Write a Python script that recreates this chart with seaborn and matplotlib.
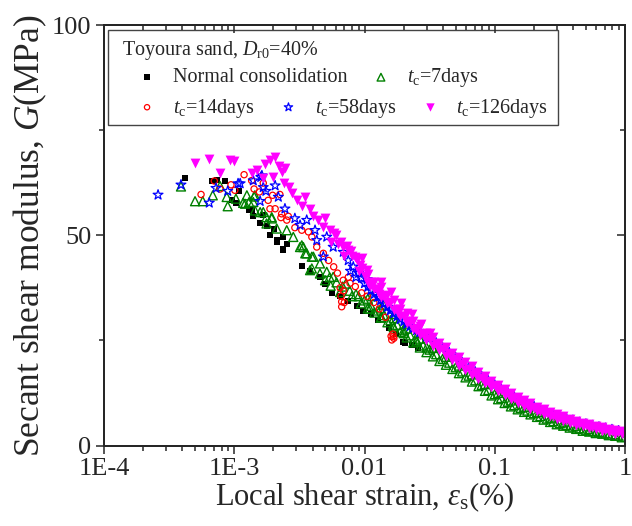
import numpy as np
import pandas as pd
import matplotlib
matplotlib.use('Agg')
import matplotlib.pyplot as plt
import seaborn as sns
from matplotlib.patches import Rectangle
from matplotlib.ticker import FixedLocator, NullFormatter, LogLocator

# ---- data: strain in %, G in MPa ----
# dense part of the curves, sampled along the middle of each band
band_strain = [0.01, 0.0112, 0.0126, 0.0141, 0.0158, 0.0178, 0.02, 0.0224, 0.0251, 0.0282,
               0.0316, 0.0355, 0.0398, 0.0447, 0.0501, 0.0562, 0.0631, 0.0708, 0.0794, 0.0891,
               0.1, 0.112, 0.126, 0.141, 0.158, 0.178, 0.2, 0.224, 0.251, 0.282,
               0.316, 0.355, 0.398, 0.447, 0.501, 0.562, 0.631, 0.708, 0.794, 0.891, 1.0]
d7_band_G = [34.5, 33.2, 32.1, 31.0, 29.8, 28.7, 27.4, 26.2, 25.0, 23.8,
             22.8, 21.7, 20.6, 19.7, 18.6, 17.6, 16.6, 15.5, 14.4, 13.2,
             12.2, 11.3, 10.4, 9.6, 8.95, 8.3, 7.7, 7.0, 6.4, 5.8,
             5.3, 4.9, 4.5, 4.1, 3.75, 3.45, 3.2, 2.9, 2.6, 2.35, 2.1]
d58_band_G = [38.55, 36.9, 35.3, 33.7, 32.1, 30.7, 29.5, 28.35, 27.4, 26.4,
              25.45, 24.4, 23.2, 22.1, 20.9, 19.75, 18.6, 17.5, 16.4, 15.4,
              14.4, 13.4, 12.5, 11.6, 10.8, 10.0, 9.3, 8.6, 8.0, 7.4,
              6.95, 6.45, 6.0, 5.5, 5.1, 4.75, 4.4, 4.1, 3.8, 3.5, 3.2]
d126_band_G = [40.4, 38.8, 37.2, 35.6, 34.0, 32.4, 30.9, 29.4, 28.0, 26.6,
               25.3, 24.1, 22.9, 21.8, 20.6, 19.45, 18.3, 17.2, 16.1, 15.1,
               14.1, 13.1, 12.2, 11.3, 10.5, 9.7, 9.0, 8.3, 7.7, 7.1,
               6.65, 6.15, 5.7, 5.2, 4.8, 4.45, 4.1, 3.8, 3.5, 3.2, 2.9]

# upper / lower edges of the bands, read between the samples above
edge_strain = [0.0106, 0.0133, 0.0168, 0.0211, 0.0266, 0.0335, 0.0422, 0.0531, 0.0668, 0.0841,
               0.106, 0.133, 0.168, 0.211, 0.266, 0.335, 0.422, 0.531, 0.668, 0.841]
d7_low_G = [32.6, 30.4, 28.1, 25.7, 23.3, 21.2, 19.2, 17.2, 15.2, 13.0,
            11.0, 9.3, 8.0, 6.8, 5.6, 4.7, 3.95, 3.3, 2.8, 2.3]
d7_up_G = [34.9, 32.6, 30.3, 27.8, 25.4, 23.2, 21.1, 19.0, 16.9, 14.6,
           12.5, 10.7, 9.2, 7.9, 6.6, 5.5, 4.65, 3.9, 3.3, 2.7]
d126_up_G = [40.9, 37.7, 34.5, 31.4, 28.5, 25.9, 23.5, 21.1, 18.8, 16.5,
             14.4, 12.5, 10.8, 9.25, 7.95, 6.9, 5.9, 5.0, 4.3, 3.65]
d126_low_G = [38.6, 35.4, 32.2, 29.2, 26.3, 23.7, 21.4, 19.0, 16.8, 14.8,
              12.9, 11.1, 9.5, 8.1, 6.9, 5.8, 4.9, 4.1, 3.4, 2.8]

edge2_strain = [0.0119, 0.015, 0.0188, 0.0237, 0.0299, 0.0376, 0.0473, 0.0596, 0.075, 0.0944,
                0.119, 0.15, 0.188, 0.237, 0.299, 0.376, 0.473, 0.596, 0.75, 0.944]
d7_low2_G = [31.6, 29.3, 27.0, 24.5, 22.2, 20.1, 18.2, 16.2, 14.1, 11.9,
             10.1, 8.6, 7.4, 6.15, 5.05, 4.25, 3.5, 2.95, 2.45, 1.95]
d126_up2_G = [38.9, 35.7, 32.5, 29.6, 26.85, 24.4, 22.1, 19.8, 17.5, 15.4,
              13.4, 11.6, 10.0, 8.6, 7.45, 6.4, 5.45, 4.7, 4.0, 3.35]
d126_low2_G = [37.1, 33.9, 30.75, 27.8, 25.05, 22.6, 20.3, 18.0, 15.8, 13.8,
               11.9, 10.2, 8.7, 7.4, 6.35, 5.4, 4.55, 3.9, 3.3, 2.75]

# scattered small-strain points
nc_strain = [4.19e-4, 6.71e-4, 7.33e-4, 8.49e-4, 1.09e-3, 9.55e-4, 1.03e-3, 1.30e-3, 1.40e-3, 1.58e-3,
             1.77e-3, 2.02e-3, 1.88e-3, 2.12e-3, 2.38e-3, 2.38e-3, 2.53e-3, 3.30e-3, 4.55e-3, 5.60e-3,
             1.36e-3, 1.67e-3, 2.12e-3, 2.38e-3, 3.8e-3, 5.0e-3, 6.5e-3, 7.5e-3, 8.7e-3, 9.8e-3,
             0.0112, 0.0128, 0.0154, 0.0175, 0.0199, 0.0205, 0.023, 0.0256]
nc_G = [63.6, 63.0, 63.2, 63.0, 60.5, 58.3, 57.7, 55.9, 54.5, 52.9,
        52.1, 51.5, 50.0, 48.4, 49.5, 46.8, 48.0, 42.7, 40.1, 36.3,
        55.9, 54.7, 48.8, 46.4, 41.5, 38.5, 35.5, 34.3, 33.2, 32.0,
        31.2, 29.8, 28.0, 26.5, 24.7, 24.4, 23.8, 23.2]

d7_strain = [3.90e-4, 5.0e-4, 5.73e-4, 6.84e-4, 7.78e-4, 8.91e-4, 8.75e-4, 1.03e-3, 1.17e-3, 1.30e-3,
             1.25e-3, 1.42e-3, 1.44e-3, 1.58e-3, 1.77e-3, 1.94e-3, 1.77e-3, 2.53e-3, 2.84e-3, 3.30e-3,
             3.60e-3, 3.94e-3, 4.55e-3, 5.13e-3, 5.75e-3, 1.21e-3, 1.44e-3, 1.40e-3, 1.67e-3, 1.94e-3,
             2.12e-3, 3.20e-3, 3.51e-3, 3.94e-3, 3.39e-3, 4.05e-3, 3.82e-3, 4.98e-3, 4.55e-3, 5.4e-3,
             6.1e-3, 6.8e-3, 7.7e-3, 8.6e-3, 5.5e-3, 6.5e-3, 7.2e-3, 8.0e-3, 9.0e-3, 9.4e-3,
             0.0115, 0.014, 0.017, 0.021, 0.026, 0.011, 0.0135, 0.0165, 0.02, 0.025, 0.03]
d7_G = [61.6, 58.1, 58.1, 59.5, 61.7, 56.9, 59.1, 58.7, 57.7, 57.9,
        59.5, 59.2, 55.9, 55.5, 54.3, 54.0, 52.8, 51.2, 49.6, 47.6,
        45.7, 42.1, 43.3, 41.3, 40.1, 57.5, 59.5, 57.9, 55.5, 54.3,
        51.6, 47.2, 45.7, 44.9, 47.2, 44.9, 41.7, 39.3, 40.9, 40.0,
        38.8, 37.8, 36.8, 36.0, 38.0, 36.5, 38.5, 35.5, 35.5, 33.8,
        35.5, 33.5, 31.3, 29.0, 26.8, 32.5, 30.5, 28.5, 26.7, 24.7, 23.3]

d14_strain = [5.56e-4, 1.19e-3, 9.44e-4, 7.03e-4, 7.78e-4, 1.01e-3, 1.36e-3, 1.42e-3, 1.56e-3, 1.67e-3,
              1.82e-3, 1.97e-3, 2.24e-3, 1.88e-3, 2.06e-3, 2.31e-3, 2.28e-3, 2.53e-3, 2.60e-3, 2.92e-3,
              3.30e-3, 3.71e-3, 3.94e-3, 4.30e-3, 4.83e-3, 6.87e-3, 6.68e-3, 6.68e-3, 7.74e-3, 0.01663,
              0.0162, 6.6e-3, 6.9e-3, 6.5e-3, 7.0e-3, 0.0165, 0.0168, 0.016, 5.3e-3, 5.8e-3,
              6.2e-3, 7.5e-3, 8.5e-3, 9.5e-3, 0.0105, 0.0118, 0.013, 0.0145]
d14_G = [59.7, 64.4, 62.0, 62.9, 61.0, 60.7, 63.0, 61.0, 60.3, 62.4,
         58.3, 59.5, 59.7, 56.3, 56.3, 55.1, 54.2, 53.6, 54.5, 51.8,
         51.2, 50.8, 49.6, 47.2, 45.7, 39.3, 34.2, 33.0, 38.6, 25.9,
         25.1, 35.5, 36.8, 37.5, 34.0, 26.5, 25.5, 26.0, 44.0, 42.5,
         41.0, 40.0, 37.8, 36.3, 35.5, 34.0, 32.5, 30.5]

d58_strain = [2.6e-4, 3.90e-4, 6.43e-4, 7.24e-4, 8.91e-4, 1.07e-3, 1.40e-3, 1.63e-3, 1.11e-3, 1.60e-3,
              1.67e-3, 1.75e-3, 2.06e-3, 1.58e-3, 2.18e-3, 2.45e-3, 2.92e-3, 3.60e-3, 3.20e-3, 4.17e-3,
              4.30e-3, 5.13e-3, 5.75e-3, 6.87e-3, 4.83e-3, 7.5e-3, 8.2e-3, 9.0e-3, 9.5e-3, 7.8e-3,
              8.6e-3, 0.0105, 0.013, 0.016, 0.0106, 0.0119, 0.0133, 0.015, 0.0168, 0.0188,
              0.0211, 0.0237, 0.0266, 0.03]
d58_G = [59.6, 62.0, 57.7, 61.2, 60.5, 62.3, 63.0, 64.2, 62.3, 63.8,
         61.4, 60.5, 61.8, 58.1, 59.1, 56.3, 54.0, 53.6, 52.4, 51.2,
         48.8, 49.6, 47.2, 46.0, 44.9, 44.0, 42.5, 41.0, 39.8, 41.5,
         40.0, 39.5, 35.5, 32.5, 37.7, 36.0, 34.5, 32.9, 31.4, 30.0,
         28.9, 27.9, 26.9, 25.9]

d126_strain = [5.0e-4, 6.43e-4, 1.0e-3, 7.78e-4, 2.06e-3, 1.72e-3, 1.88e-3, 1.36e-3, 2.0e-3, 2.31e-3,
               2.65e-3, 3.01e-3, 3.82e-3, 4.41e-3, 5.43e-3, 6.87e-3, 8.45e-3, 2.4e-3, 2.8e-3, 3.3e-3,
               3.5e-3, 4.0e-3, 4.8e-3, 5.0e-3, 6.0e-3, 6.3e-3, 7.5e-3, 8.0e-3, 9.2e-3, 9.5e-3,
               1.5e-3, 1.65e-3, 2.2e-3, 2.45e-3, 9.3e-4, 5.5e-3, 7.0e-3, 9.0e-3, 0.011, 0.013,
               0.015, 0.018, 0.021, 0.025, 0.0135, 0.016, 0.019, 0.023, 0.027, 0.032,
               5.8e-3, 6.6e-3, 7.3e-3, 7.9e-3, 8.8e-3, 9.6e-3, 0.0104]
d126_G = [67.1, 68.2, 67.6, 64.9, 68.7, 67.0, 67.8, 64.8, 63.8, 65.0,
          61.4, 58.3, 56.3, 53.6, 51.2, 47.2, 44.9, 62.5, 60.0, 57.0,
          59.0, 54.5, 52.0, 54.0, 50.0, 48.0, 46.5, 45.0, 43.0, 44.5,
          65.5, 63.5, 66.5, 66.0, 67.8, 48.5, 45.0, 41.5, 38.0, 36.0,
          34.2, 31.5, 29.5, 27.5, 39.0, 36.5, 34.0, 31.2, 29.0, 26.8,
          50.5, 48.5, 47.5, 46.2, 44.0, 42.2, 41.8]

x_ticks = [1e-4, 1e-3, 1e-2, 1e-1, 1]
x_tick_labels = ['1E-4', '1E-3', '0.01', '0.1', '1']
y_ticks = [0, 50, 100]

sns.set_style('white')
plt.rcParams['font.family'] = ['Liberation Serif', 'DejaVu Serif']
plt.rcParams['mathtext.fontset'] = 'custom'
plt.rcParams['mathtext.rm'] = 'Liberation Serif'
plt.rcParams['mathtext.it'] = 'Liberation Serif:italic'

nc = pd.DataFrame({'strain': nc_strain, 'G': nc_G})
d7 = pd.DataFrame({'strain': d7_strain + band_strain + edge_strain + edge_strain + edge2_strain,
                   'G': d7_G + d7_band_G + d7_low_G + d7_up_G + d7_low2_G})
d14 = pd.DataFrame({'strain': d14_strain, 'G': d14_G})
d58 = pd.DataFrame({'strain': d58_strain + band_strain, 'G': d58_G + d58_band_G})
d126 = pd.DataFrame({'strain': d126_strain + band_strain + edge_strain + edge_strain
                     + edge2_strain + edge2_strain,
                     'G': d126_G + d126_band_G + d126_up_G + d126_low_G + d126_up2_G + d126_low2_G})

fig = plt.figure(figsize=(6.32, 5.26), dpi=100)
ax = fig.add_axes([104 / 632, 80.5 / 526, 521 / 632, 420.5 / 526])

sns.scatterplot(data=nc, x='strain', y='G', ax=ax, marker='s', s=18, color='black',
                linewidth=0, label='Normal consolidation', legend=False)
sns.scatterplot(data=d7, x='strain', y='G', ax=ax, marker='^', s=42, facecolor='none',
                edgecolor='#008000', linewidth=1.0, label=r'$t_{\rm c}$=7days', legend=False)
sns.scatterplot(data=d14, x='strain', y='G', ax=ax, marker='o', s=20, facecolor='none',
                edgecolor='red', linewidth=0.9, label=r'$t_{\rm c}$=14days', legend=False)
sns.scatterplot(data=d58, x='strain', y='G', ax=ax, marker='*', s=55, facecolor='none',
                edgecolor='blue', linewidth=0.9, label=r'$t_{\rm c}$=58days', legend=False)
sns.scatterplot(data=d126, x='strain', y='G', ax=ax, marker='v', s=50, color='#FF00FF',
                linewidth=0, label=r'$t_{\rm c}$=126days', legend=False)

ax.set_xscale('log')
ax.set_xlim(1e-4, 1)
ax.set_ylim(0, 100)
ax.xaxis.set_major_locator(FixedLocator(x_ticks))
ax.set_xticklabels(x_tick_labels)
ax.xaxis.set_minor_locator(LogLocator(base=10, subs=np.arange(2, 10)))
ax.xaxis.set_minor_formatter(NullFormatter())
ax.set_yticks(y_ticks)
ax.set_yticks([25, 75], minor=True)
ax.tick_params(which='major', direction='out', length=6, width=1.1, labelsize=19, pad=3)
ax.tick_params(which='minor', direction='out', length=3.5, width=1.1)
for sp in ax.spines.values():
    sp.set_linewidth(1.2)
    sp.set_color('black')

ax.set_xlabel(r'Local shear strain, $\varepsilon_{\rm s}$(%)', fontsize=22, labelpad=0)
ax.set_ylabel(r'Secant shear modulus, $G$(MPa)', fontsize=25.5, labelpad=2)

# mirrored ticks on top/right point inward
axt = ax.twiny()
axt.set_xscale('log')
axt.set_xlim(1e-4, 1)
axt.xaxis.set_major_locator(FixedLocator(x_ticks))
axt.xaxis.set_minor_locator(LogLocator(base=10, subs=np.arange(2, 10)))
axt.tick_params(which='both', direction='in', labeltop=False, width=1.1)
axt.tick_params(which='major', length=6)
axt.tick_params(which='minor', length=3.5)
axr = ax.twinx()
axr.set_ylim(0, 100)
axr.set_yticks(y_ticks)
axr.set_yticks([25, 75], minor=True)
axr.tick_params(which='both', direction='in', labelright=False, width=1.1)
axr.tick_params(which='major', length=6)
axr.tick_params(which='minor', length=3.5)
for a in (axt, axr):
    for sp in a.spines.values():
        sp.set_linewidth(1.2)

# legend: box + title + two rows of entries
handles, labels = ax.get_legend_handles_labels()
ax.add_patch(Rectangle((0.0077, 0.762), 0.863, 0.226, transform=ax.transAxes,
                       facecolor='white', edgecolor='#444444', linewidth=1.0, zorder=5))
ax.text(0.0345, 0.9405, r'Toyoura sand, $D_{\rm r0}$=40%', transform=ax.transAxes,
        fontsize=14.5, va='center', ha='left', zorder=6)
common = dict(frameon=False, fontsize=14.5, handlelength=1.0, handletextpad=0.8,
              columnspacing=1.15, borderpad=0, borderaxespad=0, markerscale=0.85)
leg1 = ax.legend(handles[:2], labels[:2], ncol=2, loc='center left',
                 bbox_to_anchor=(0.0633, 0.874), **common)
leg1.set_zorder(7)
ax.add_artist(leg1)
leg2 = ax.legend(handles[2:], labels[2:], ncol=3, loc='center left',
                 bbox_to_anchor=(0.0633, 0.8026), **common)
leg2.set_zorder(7)

fig.savefig('out.png', dpi=100)
